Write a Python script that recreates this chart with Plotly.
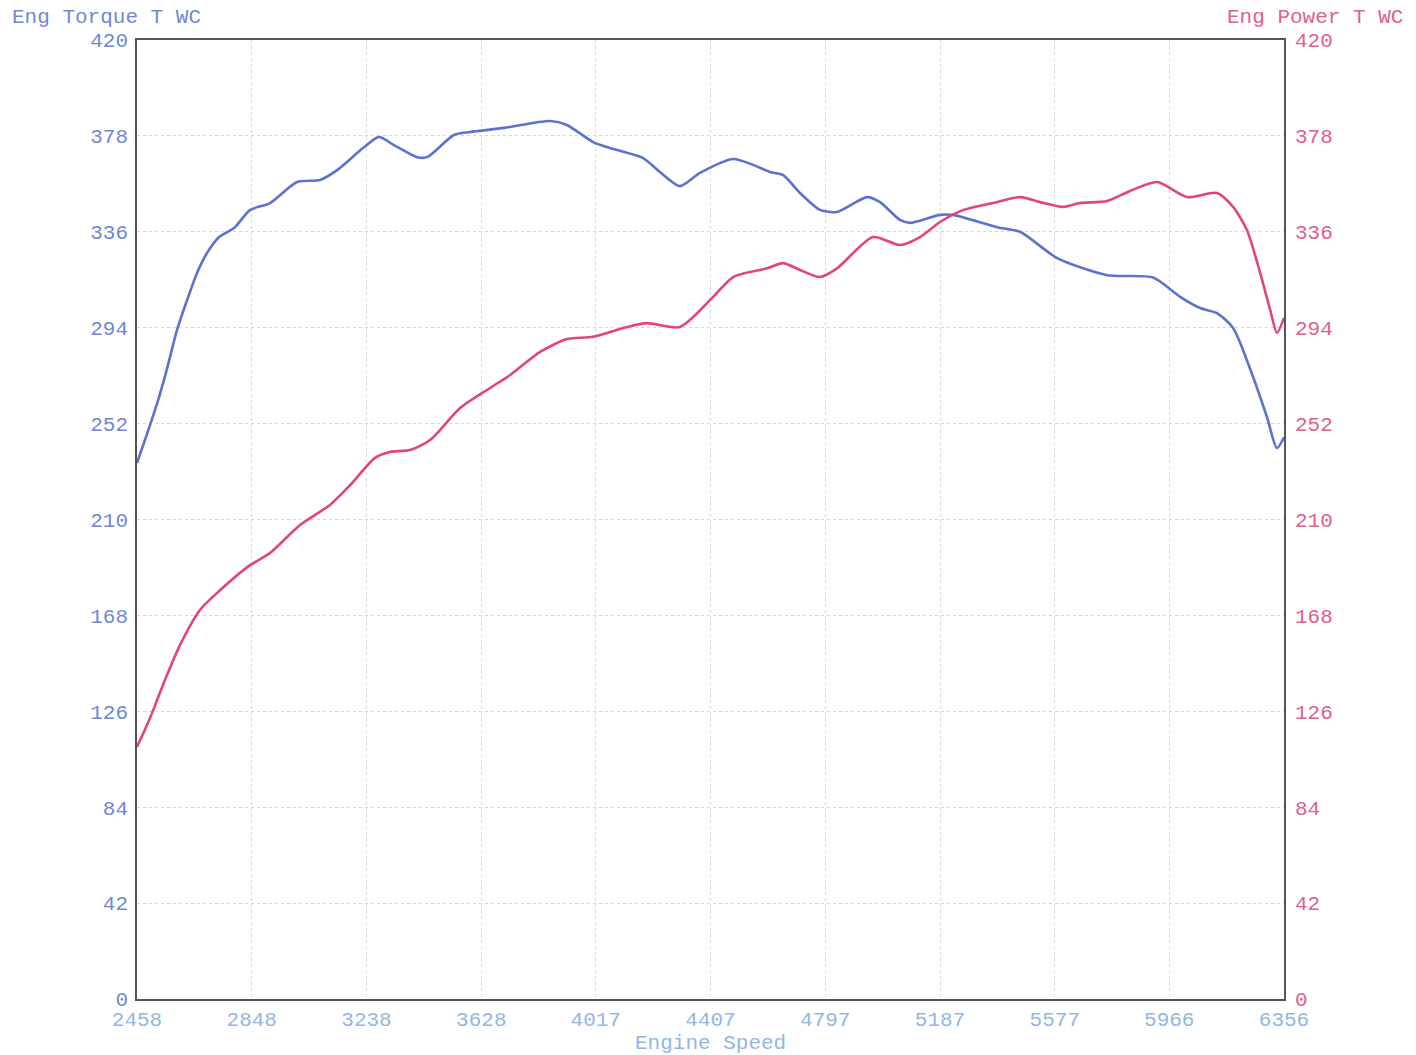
import plotly.graph_objects as go

# Torque trace (Eng Torque T WC)
torque_rpm = [2458, 2485, 2529, 2560, 2594, 2628, 2662, 2696, 2737, 2788, 2842, 2910, 3002, 3080,
              3138, 3229, 3280, 3331, 3410, 3444, 3535, 3590, 3705, 3862, 3919, 4008, 4065, 4178,
              4235, 4303, 4371, 4484, 4552, 4609, 4653, 4711, 4779, 4837, 4939, 4983, 5051, 5085,
              5187, 5231, 5381, 5459, 5585, 5755, 5911, 6003, 6071, 6128, 6183, 6251, 6298, 6332, 6356]
torque_val = [234.7, 244.8, 262, 276, 293, 306, 318, 326.7, 333.7, 337.7, 345.5, 348.6, 357.8, 358.7,
              363, 373, 377.5, 374, 368.7, 368.7, 378.4, 379.7, 381.5, 384.5, 382.8, 375.3, 372.7, 368.3,
              362.2, 356, 361.8, 367.9, 365.3, 362.2, 360.9, 353, 345.6, 344.7, 351.2, 349, 341.2, 339.9,
              343.4, 343.4, 338, 336, 324.5, 317, 316, 307.5, 302.6, 300.4, 293.9, 272.4, 254.9, 241.3, 246]

# Power trace (Eng Power T WC)
power_rpm = [2458, 2502, 2553, 2604, 2672, 2740, 2842, 2910, 3012, 3114, 3182, 3267, 3318, 3386,
             3454, 3556, 3658, 3726, 3828, 3919, 4008, 4123, 4191, 4303, 4416, 4484, 4599, 4653,
             4711, 4779, 4837, 4959, 5051, 5119, 5187, 5265, 5367, 5459, 5527, 5605, 5663, 5755,
             5833, 5925, 6026, 6128, 6183, 6230, 6275, 6309, 6332, 6356]
power_val = [110.4, 123, 139.7, 155, 170.4, 179, 190, 195.3, 207.6, 216.4, 225, 237, 239.6, 240.4,
             244.8, 258.8, 267.6, 273.3, 283.4, 289, 290, 294.3, 296, 294.3, 307.5, 316.2, 320, 322.3,
             319.3, 316.2, 320, 333.7, 330.2, 333.7, 340.3, 345.5, 348.6, 351.2, 349, 346.9, 348.6, 349.5,
             353.9, 357.8, 351.2, 353, 346.9, 336.8, 318, 301.8, 291.7, 298.3]

x_ticks = [2458, 2848, 3238, 3628, 4017, 4407, 4797, 5187, 5577, 5966, 6356]
y_ticks = [0, 42, 84, 126, 168, 210, 252, 294, 336, 378, 420]

FONT = "Liberation Mono, Courier New, monospace"
BLUE = "#5b73cf"
RED = "#e2457c"
BLUE_TXT = "#7088d4"
XTXT = "#93b6e2"
RED_TXT = "#e0608e"
FS = 21

W, H = 1400, 1047
L, R, T, B = 129, 124, 32, 56
PW = W - L - R  # plot width in px

fig = go.Figure()
fig.add_trace(go.Scatter(x=torque_rpm, y=torque_val, mode="lines", name="Eng Torque T WC",
                         line=dict(color=BLUE, width=2.6, shape="spline", smoothing=0.7),
                         yaxis="y"))
fig.add_trace(go.Scatter(x=power_rpm, y=power_val, mode="lines", name="Eng Power T WC",
                         line=dict(color=RED, width=2.6, shape="spline", smoothing=0.7),
                         yaxis="y2"))

grid = dict(showgrid=True, gridcolor="#d2d6dc", griddash="dot", gridwidth=1)

fig.update_layout(
    width=W, height=H,
    margin=dict(l=L, r=R, t=T, b=B),
    paper_bgcolor="white", plot_bgcolor="white",
    showlegend=False,
    font=dict(family=FONT, size=FS),
    xaxis=dict(range=[2458, 6356], tickmode="array", tickvals=x_ticks,
               ticktext=[str(v) for v in x_ticks],
               tickfont=dict(family=FONT, size=FS, color=XTXT),
               showline=True, linecolor="#555555", linewidth=1.5, mirror=True,
               zeroline=False, ticks="", ticklabelstandoff=0, automargin=False,
               **grid),
    yaxis=dict(range=[0, 420], tickmode="array", tickvals=y_ticks,
               tickfont=dict(family=FONT, size=FS, color=BLUE_TXT),
               showline=True, linecolor="#555555", linewidth=1.5, mirror=True,
               zeroline=False, ticks="", ticklabelstandoff=3, automargin=False,
               **grid),
    yaxis2=dict(range=[0, 420], tickmode="array", tickvals=y_ticks, overlaying="y", side="right",
                tickfont=dict(family=FONT, size=FS, color=RED_TXT),
                showgrid=False, zeroline=False, ticks="", ticklabelstandoff=5, automargin=False,
                showline=True, linecolor="#555555", linewidth=1.5),
    annotations=[
        dict(text="Eng Torque T WC", xref="paper", yref="paper", x=(-L + 2) / PW, y=1.0,
             xanchor="left", yanchor="bottom", yshift=9, showarrow=False,
             font=dict(family=FONT, size=FS, color=BLUE_TXT)),
        dict(text="Eng Power T WC", xref="paper", yref="paper", x=(PW + R - 3) / PW, y=1.0,
             xanchor="right", yanchor="bottom", yshift=9, showarrow=False,
             font=dict(family=FONT, size=FS, color=RED_TXT)),
        dict(text="Engine Speed", xref="paper", yref="paper", x=0.5, y=0.0,
             xanchor="center", yanchor="middle", yshift=-44, showarrow=False,
             font=dict(family=FONT, size=FS, color=XTXT)),
    ],
)

fig.write_html("out.html")
